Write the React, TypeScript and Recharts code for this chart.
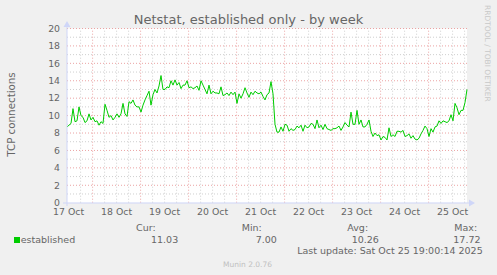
import { LineChart, Line, XAxis, YAxis, CartesianGrid, ReferenceLine } from 'recharts'

// hourly samples, 17 Oct ~07:00 -> 25 Oct 19:00
const established = [
  8.7, 8.9, 9.1, 10.8, 9.3, 9.4, 11.0, 10.0, 9.8, 9.2, 9.4, 10.2, 9.5, 9.8, 9.3, 9.4, 8.9,
  9.3, 9.1, 11.3, 10.6, 9.8, 10.0, 9.5, 9.8, 10.2, 9.8, 10.2, 11.4, 10.2, 9.9, 11.6, 11.4,
  11.8, 11.2, 11.0, 11.0, 10.4, 11.2, 11.8, 12.3, 12.8, 11.2, 12.4, 13.0, 12.6, 13.4, 14.6,
  13.0, 13.0, 13.3, 13.2, 14.0, 13.5, 14.1, 13.5, 13.8, 13.1, 13.5, 13.5, 14.0, 13.2, 13.3,
  13.1, 13.2, 13.4, 12.9, 14.0, 13.5, 13.0, 12.5, 13.5, 12.5, 12.8, 12.6, 12.6, 12.5, 13.3,
  12.3, 12.4, 12.6, 12.3, 12.7, 12.4, 12.7, 11.4, 12.5, 12.0, 12.5, 13.2, 12.6, 12.1, 12.7,
  12.4, 12.8, 12.6, 12.5, 12.7, 12.2, 11.8, 12.4, 12.6, 13.9, 12.5, 9.0, 8.1, 8.1, 8.7, 8.2,
  9.0, 8.9, 8.2, 8.5, 8.3, 8.4, 8.8, 8.6, 8.9, 8.2, 8.9, 8.6, 8.7, 9.1, 9.0, 8.5, 9.5, 8.6,
  8.9, 8.4, 9.0, 8.5, 8.4, 8.3, 8.5, 8.5, 8.6, 8.8, 8.3, 8.7, 9.2, 8.9, 8.7, 10.4, 9.0, 9.0,
  10.6, 9.0, 9.5, 8.7, 8.7, 9.0, 9.5, 8.2, 7.6, 8.0, 7.7, 7.8, 7.2, 7.6, 7.5, 7.2, 8.6, 7.6,
  7.8, 7.6, 8.2, 8.2, 8.1, 8.3, 7.6, 7.7, 7.9, 7.4, 7.7, 7.3, 7.2, 7.4, 7.9, 8.3, 8.8, 8.5,
  7.6, 8.5, 8.1, 8.7, 8.8, 9.4, 9.1, 9.4, 9.3, 9.2, 9.4, 10.1, 9.4, 11.4, 10.9, 10.1, 10.6,
  10.6, 11.5, 13.0,
]

const dayLabels = ['17 Oct', '18 Oct', '19 Oct', '20 Oct', '21 Oct', '22 Oct', '23 Oct', '24 Oct', '25 Oct']
const yTicks = [0, 2, 4, 6, 8, 10, 12, 14, 16, 18, 20]
const yMinor = [1, 3, 5, 7, 9, 11, 13, 15, 17, 19]

const statNames = ['Cur:', 'Min:', 'Avg:', 'Max:']
const statValues = ['11.03', '7.00', '10.26', '17.72']

const data = established.map((v, h) => ({ h, v }))

const labelHours = dayLabels.map((_, i) => 0.8 + 24 * i)
const majorHours = labelHours.slice(0, 8).map((h) => h + 12)
const minorHours: number[] = []
for (let h = 6.8; h < 200; h += 6) {
  if (!majorHours.some((m) => Math.abs(m - h) < 0.1)) minorHours.push(h)
}

const FONT = '"DejaVu Sans", sans-serif'
const TEXT = '#666'
const AXIS = '#cfd6f8'
const MINOR = '#cfcfcf'
const MAJOR = '#eba3a3'

const statHeadX = [136, 241.7, 347.3, 454.3]
const statValX = [151, 255.7, 351.7, 453.3]

export default function App() {
  return (
    <div
      style={{
        position: 'absolute',
        left: 0,
        top: 0,
        width: 497,
        height: 275,
        background: '#f0f0f0',
        fontFamily: FONT,
      }}
    >
      <LineChart
        width={497}
        height={275}
        data={data}
        margin={{ top: 28.5, right: 30, bottom: 52.3, left: 0 }}
      >
        <CartesianGrid fill="#ffffff" stroke="none" horizontal={false} vertical={false} />
        {yMinor.map((y) => (
          <ReferenceLine key={'ym' + y} y={y} stroke={MINOR} strokeDasharray="1 2" />
        ))}
        {minorHours.map((h) => (
          <ReferenceLine key={'xm' + h} x={h} stroke={MINOR} strokeDasharray="1 2" />
        ))}
        {yTicks.slice(1).map((y) => (
          <ReferenceLine key={'yM' + y} y={y} stroke={MAJOR} strokeDasharray="1 2" />
        ))}
        {majorHours.map((h) => (
          <ReferenceLine key={'xM' + h} x={h} stroke={MAJOR} strokeDasharray="1 2" />
        ))}
        <XAxis
          dataKey="h"
          type="number"
          domain={[0, 200]}
          ticks={labelHours}
          tickFormatter={(v: number) => dayLabels[Math.round((v - 0.8) / 24)]}
          height={20}
          axisLine={false}
          tickLine={false}
          tickSize={0}
          tickMargin={6}
          interval={0}
          tick={{ fill: TEXT, fontSize: 9.33, fontFamily: FONT }}
        />
        <YAxis
          domain={[0, 20]}
          ticks={yTicks}
          width={67}
          axisLine={false}
          tickLine={false}
          tickSize={0}
          tickMargin={7}
          interval={0}
          tick={{ fill: TEXT, fontSize: 9.33, fontFamily: FONT }}
        />
        <Line
          type="linear"
          dataKey="v"
          stroke="#00cc00"
          strokeWidth={1}
          dot={false}
          isAnimationActive={false}
        />
      </LineChart>
      <svg
        width={497}
        height={275}
        style={{ position: 'absolute', left: 0, top: 0, pointerEvents: 'none' }}
        fontFamily={FONT}
      >
        {/* axes with arrows */}
        <line x1={63} y1={203} x2={470} y2={203} stroke={AXIS} strokeWidth={1} />
        <polygon points="469,199.5 475,203 469,206.5" fill={AXIS} />
        <line x1={67} y1={206} x2={67} y2={27} stroke={AXIS} strokeWidth={1} />
        <polygon points="63.5,27 67,21 70.5,27" fill={AXIS} />

        <text x={248.5} y={23.5} textAnchor="middle" fontSize={13} fill={TEXT}>
          Netstat, established only - by week
        </text>
        <text transform="translate(15,114.5) rotate(-90)" textAnchor="middle" fontSize={10.3} fill={TEXT}>
          TCP connections
        </text>
        <text transform="translate(485,5) rotate(90)" fontSize={7.5} fill="#c8c8c8">
          RRDTOOL / TOBI OETIKER
        </text>

        <rect x={14} y={237} width={6} height={6} fill="#00cc00" />
        <text x={20.7} y={243} fontSize={9.5} fill={TEXT}>
          established
        </text>
        {statNames.map((s, i) => (
          <text key={s} x={statHeadX[i]} y={231} fontSize={9.5} fill={TEXT}>
            {s}
          </text>
        ))}
        {statValues.map((s, i) => (
          <text key={s} x={statValX[i]} y={243} fontSize={9.5} fill={TEXT}>
            {s}
          </text>
        ))}
        <text x={482.7} y={254} textAnchor="end" fontSize={9.5} fill={TEXT}>
          Last update: Sat Oct 25 19:00:14 2025
        </text>
        <text x={247.5} y={267} textAnchor="middle" fontSize={7.5} fill="#c0c0c0">
          Munin 2.0.76
        </text>
      </svg>
    </div>
  )
}
